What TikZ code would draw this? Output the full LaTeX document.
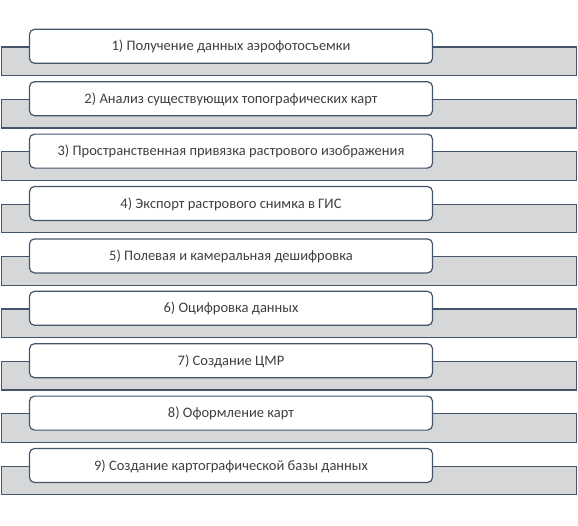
\documentclass[tikz,border=0pt]{standalone}
\usepackage{fontspec}
\setmainfont{Carlito}
\usetikzlibrary{positioning}
\tikzstyle{diagram} = [x = 1pt, y = -1pt]
\definecolor{frameColor}{RGB}{68,84,106}
\definecolor{bandColor}{RGB}{214,215,217}
\definecolor{labelColor}{RGB}{64,64,64}
\tikzstyle{bandStyle} = [draw=frameColor, fill=bandColor, line width=1.2pt, minimum width=575pt, minimum height=28.7pt, inner sep=0pt, anchor=north west]
\tikzstyle{stageStyle} = [draw=frameColor, fill=white, rounded corners = 5pt, line width=1.2pt, minimum width=403pt, minimum height=34pt, inner sep=0pt, text height=9.2pt, text depth=0pt, font=\fontsize{14.5}{17}\selectfont, text=labelColor]
\newcommand{\rowPitch}{52.4}
\newcommand{\stage}[2]{
  \pgfmathsetmacro{\bandTop}{46.3 + \rowPitch * (#1 - 1)}
  \pgfmathsetmacro{\stageMid}{46.3 + \rowPitch * (#1 - 1)}
  \node [bandStyle] (band#1) at (1, \bandTop) {};
  \node [stageStyle] (stage#1) at (231, \stageMid) {#2};
}

\begin{document}
\begin{tikzpicture}[diagram]
  \useasboundingbox (0,0) rectangle (578,525);
  \stage{1}{1) Получение данных аэрофотосъемки}
  \stage{2}{2) Анализ существующих топографических карт}
  \stage{3}{3) Пространственная привязка растрового изображения}
  \stage{4}{4) Экспорт растрового снимка в ГИС}
  \stage{5}{5) Полевая и камеральная дешифровка}
  \stage{6}{6) Оцифровка данных}
  \stage{7}{7) Создание ЦМР}
  \stage{8}{8) Оформление карт}
  \stage{9}{9) Создание картографической базы данных}
\end{tikzpicture}
\end{document}
